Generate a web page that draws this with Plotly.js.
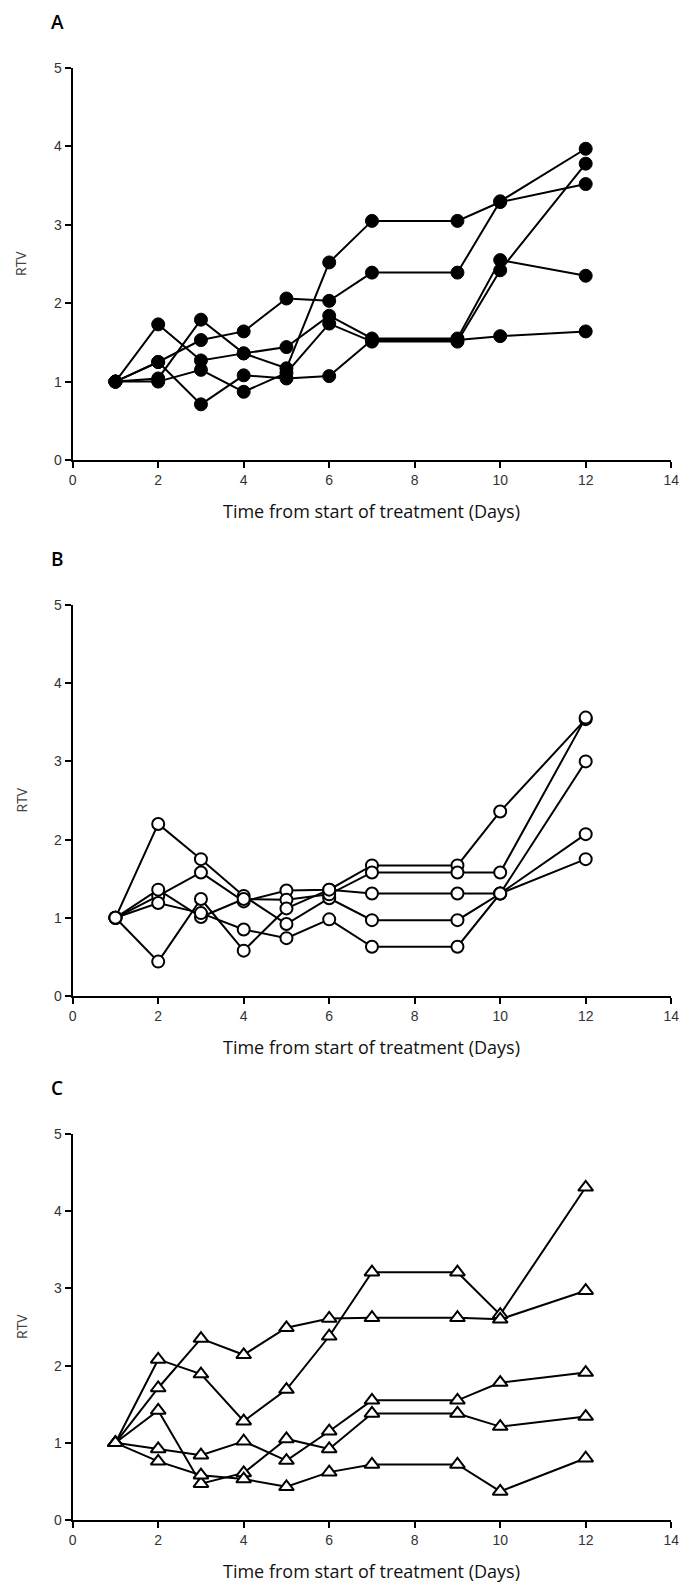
<!DOCTYPE html>
<html>
<head>
<meta charset="utf-8">
<script src="https://cdn.plot.ly/plotly-3.0.1.min.js"></script>
<style>
  html, body { margin: 0; padding: 0; background: #ffffff; }
  #chart { width: 682px; height: 1584px; }
</style>
</head>
<body>
<div id="chart"></div>
<script>
// ---------- data ----------
const days = [1, 2, 3, 4, 5, 6, 7, 9, 10, 12];

// Panel A (filled circles)
const a1 = [1, 1.73, 1.27, 1.36, 1.44, 1.84, 1.55, 1.55, 2.55, 2.35];
const a2 = [1, 1.25, 1.53, 1.64, 2.06, 2.03, 2.39, 2.39, 3.30, 3.97];
const a3 = [1, 1.25, 0.71, 1.08, 1.04, 1.07, 1.53, 1.53, 1.58, 1.64];
const a4 = [1, 1.04, 1.79, 1.36, 1.17, 2.52, 3.05, 3.05, 3.29, 3.52];
const a5 = [1, 1.00, 1.15, 0.87, 1.11, 1.74, 1.51, 1.51, 2.42, 3.78];

// Panel B (open circles)
const b1 = [1, 2.20, 1.75, 1.28, 0.92, 1.25, 0.97, 0.97, 1.31, 1.75];
const b2 = [1, 1.28, 1.58, 1.21, 1.35, 1.36, 1.67, 1.67, 2.36, 3.54];
const b3 = [1, 1.36, 1.01, 1.24, 1.23, 1.30, 1.58, 1.58, 1.58, 3.56];
const b4 = [1, 0.44, 1.24, 0.58, 1.12, 1.36, 1.31, 1.31, 1.31, 3.00];
const b5 = [1, 1.19, 1.06, 0.85, 0.74, 0.98, 0.63, 0.63, 1.31, 2.07];

// Panel C (open triangles)
const c1 = [1, 2.08, 1.89, 1.28, 1.69, 2.38, 3.21, 3.21, 2.66, 4.31];
const c2 = [1, 1.71, 2.35, 2.14, 2.49, 2.61, 2.62, 2.62, 2.60, 2.97];
const c3 = [1, 1.42, 0.47, 0.61, 1.05, 0.92, 1.38, 1.38, 1.21, 1.34];
const c4 = [1, 0.92, 0.84, 1.02, 0.77, 1.15, 1.55, 1.55, 1.78, 1.91];
const c5 = [1, 0.76, 0.58, 0.53, 0.43, 0.62, 0.72, 0.72, 0.37, 0.80];

const xTicks = [0, 2, 4, 6, 8, 10, 12, 14];
const yTicks = [0, 1, 2, 3, 4, 5];
const panelLetters = ["A", "B", "C"];
const xTitle = "Time from start of treatment (Days)";
const yTitle = "RTV";

// ---------- geometry (pixels) ----------
const W = 682, H = 1584;
const plotLeft = 72.7, plotRight = 671.2;
const panels = [
  { top: 68,   bottom: 460 },
  { top: 605,  bottom: 996 },
  { top: 1134, bottom: 1520 }
];
const px = v => v / W;
const py = v => 1 - v / H;

const seriesSets = [
  { data: [a1, a2, a3, a4, a5], marker: { symbol: "circle", size: 13, color: "#000000", line: { color: "#000000", width: 1 } } },
  { data: [b1, b2, b3, b4, b5], marker: { symbol: "circle", size: 12, color: "#ffffff", line: { color: "#000000", width: 2 } } },
  { data: [c1, c2, c3, c4, c5], marker: { symbol: "triangle-up", size: 13, color: "#ffffff", line: { color: "#000000", width: 2 } } }
];

const traces = [];
seriesSets.forEach((set, i) => {
  const xa = i === 0 ? "x" : "x" + (i + 1);
  const ya = i === 0 ? "y" : "y" + (i + 1);
  set.data.forEach(s => {
    traces.push({ x: days, y: s, xaxis: xa, yaxis: ya, type: "scatter", mode: "lines",
      line: { color: "#000000", width: 2 }, hoverinfo: "skip", showlegend: false });
  });
  set.data.forEach(s => {
    traces.push({ x: days, y: s, xaxis: xa, yaxis: ya, type: "scatter", mode: "markers",
      marker: set.marker, cliponaxis: false, hoverinfo: "skip", showlegend: false });
  });
});

const tickFont = { family: "Liberation Sans Narrow, Arial Narrow, Liberation Sans, sans-serif", size: 14, color: "#333333" };

function xAxis(i) {
  return {
    domain: [px(plotLeft), px(plotRight)], range: [0, 14], anchor: i === 0 ? "y" : "y" + (i + 1),
    tickvals: xTicks, ticktext: xTicks.map(String), showgrid: false, zeroline: false,
    showline: true, linecolor: "#000000", linewidth: 2, ticks: "outside", ticklen: 6, tickwidth: 2,
    tickcolor: "#000000", tickfont: tickFont, fixedrange: true
  };
}
function yAxis(i) {
  return {
    domain: [py(panels[i].bottom), py(panels[i].top)], range: [0, 5], anchor: i === 0 ? "x" : "x" + (i + 1),
    tickvals: yTicks, ticktext: yTicks.map(String), showgrid: false, zeroline: false,
    showline: true, linecolor: "#000000", linewidth: 2, ticks: "outside", ticklen: 6, tickwidth: 2,
    tickcolor: "#000000", tickfont: tickFont, fixedrange: true
  };
}

const annotations = [];
panels.forEach((p, i) => {
  annotations.push({ text: panelLetters[i], xref: "paper", yref: "paper", x: px(57), y: py(p.top - 46),
    showarrow: false, xanchor: "center", yanchor: "middle",
    font: { family: "Open Sans, Liberation Sans, sans-serif", size: 19, color: "#000000", weight: 600 } });
  annotations.push({ text: yTitle, xref: "paper", yref: "paper", x: px(21), y: py((p.top + p.bottom) / 2),
    showarrow: false, xanchor: "center", yanchor: "middle", textangle: -90,
    font: { family: "Open Sans, Liberation Sans, sans-serif", size: 14, color: "#444444" } });
  annotations.push({ text: xTitle, xref: "paper", yref: "paper", x: px(371), y: py(p.bottom + 51),
    showarrow: false, xanchor: "center", yanchor: "middle",
    font: { family: "Open Sans, Liberation Sans, sans-serif", size: 18, color: "#111111" } });
});

const layout = {
  width: W, height: H,
  margin: { l: 0, r: 0, t: 0, b: 0 },
  paper_bgcolor: "#ffffff", plot_bgcolor: "#ffffff",
  showlegend: false,
  xaxis: xAxis(0), yaxis: yAxis(0),
  xaxis2: xAxis(1), yaxis2: yAxis(1),
  xaxis3: xAxis(2), yaxis3: yAxis(2),
  annotations: annotations
};

Plotly.newPlot("chart", traces, layout, { staticPlot: true, displayModeBar: false });
</script>
</body>
</html>
